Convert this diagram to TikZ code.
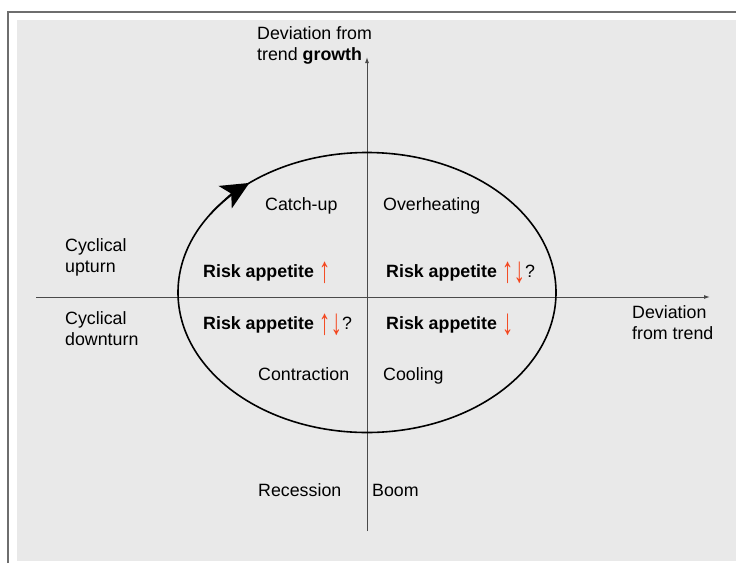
\documentclass[tikz,border=0pt]{standalone}
\usepackage{fontspec}
\usepackage{graphicx}
\setmainfont{Liberation Sans}
\usetikzlibrary{arrows.meta}
\definecolor{panel}{HTML}{E9E9E9}
\definecolor{framegray}{HTML}{6E6E6E}
\definecolor{axisgray}{HTML}{4A4A4A}
\definecolor{riskred}{HTML}{F4461E}
% tall, thin trend arrows
\newcommand{\rup}{{\color{riskred}\raisebox{-5pt}{\scalebox{1.3}[2.05]{↑}}}}
\newcommand{\rdown}{{\color{riskred}\raisebox{-5pt}{\scalebox{1.3}[2.05]{↓}}}}
\tikzset{
  lbl/.style={font=\fontsize{17.8}{21}\selectfont, inner sep=0pt, anchor=base west, align=left},
  axis/.style={draw=axisgray, line width=1pt},
}
\begin{document}
\begin{tikzpicture}[x=1pt, y=1pt]
  \useasboundingbox (0,0) rectangle (736,-563);
  % page, frame and panel
  \fill[white] (0,0) rectangle (736,-563);
  \draw[framegray, line width=2pt] (8,-563) -- (8,-12) -- (736,-12);
  \fill[panel] (17,-20) rectangle (736,-561);

  % axes
  \coordinate (vbot) at (367,-531);
  \coordinate (vtop) at (367,-57);
  \coordinate (hleft) at (36,-297);
  \coordinate (hright) at (710,-297);
  \draw[axis, -{Latex[length=6pt, width=4pt]}] (vbot) -- (vtop);
  \draw[axis, -{Latex[length=6pt, width=4pt]}] (hleft) -- (hright);

  % business cycle
  \coordinate (centre) at (367,-292.5);
  \draw[line width=1.6pt] (centre) ellipse [x radius=189, y radius=140];
  \draw[line width=1.6pt, -{Stealth[length=28pt, width=26pt, inset=7pt]}]
    (centre) ++(146:189 and 140) arc[start angle=146, end angle=128.5, x radius=189, y radius=140];

  % axis titles (anchored at the baseline of the last line)
  \node[lbl] (ytitle) at (257,-60) {Deviation from\\trend \textbf{growth}};
  \node[lbl] (xtitle) at (632,-339) {Deviation\\from trend};
  \node[lbl] (upturn) at (65,-272) {Cyclical\\upturn};
  \node[lbl] (downturn) at (65,-345) {Cyclical\\downturn};

  % phases
  \node[lbl] (catchup) at (265,-210) {Catch-up};
  \node[lbl] (overheat) at (383,-210) {Overheating};
  \node[lbl] (contract) at (258,-380) {Contraction};
  \node[lbl] (cooling) at (383,-380) {Cooling};
  \node[lbl] (recession) at (258,-496) {Recession};
  \node[lbl] (boom) at (372,-496) {Boom};

  % risk appetite
  \node[lbl] (riskA) at (203,-277) {\textbf{Risk appetite} \rup};
  \node[lbl] (riskB) at (386,-277) {\textbf{Risk appetite} \rup\rdown?};
  \node[lbl] (riskC) at (203,-329) {\textbf{Risk appetite} \rup\rdown?};
  \node[lbl] (riskD) at (386,-329) {\textbf{Risk appetite} \rdown};
\end{tikzpicture}
\end{document}
